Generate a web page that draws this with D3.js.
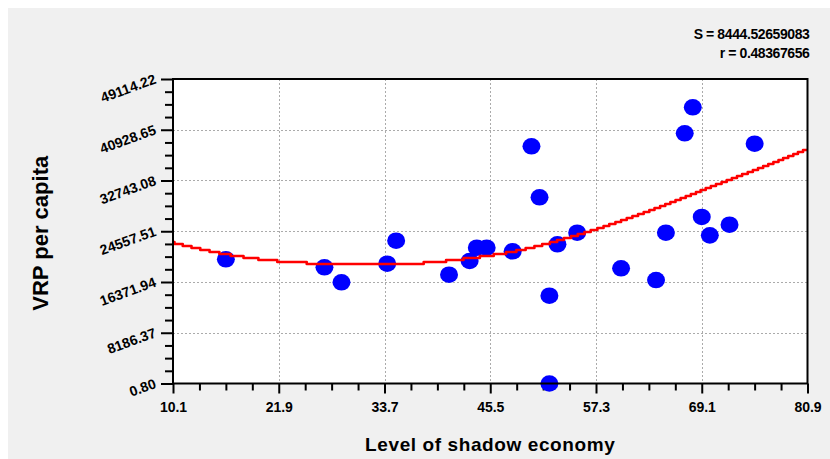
<!DOCTYPE html>
<html>
<head>
<meta charset="utf-8">
<script src="https://cdn.jsdelivr.net/npm/d3@7/dist/d3.min.js"></script>
<style>
  html, body { margin: 0; padding: 0; background: #ffffff; }
  svg { display: block; }
  text { font-family: "Liberation Sans", Arial, sans-serif; font-weight: bold; fill: #000; }
</style>
</head>
<body>
<svg id="chart" width="830" height="459"></svg>
<script>
// Level of shadow economy (%) for each observation
const shadowLevel = [16.0, 27.0, 28.9, 34.0, 35.0, 40.9, 43.2, 44.0, 45.1, 48.0,
                     50.1, 51.0, 52.1, 52.1, 53.0, 55.2, 60.1, 64.0, 65.1, 67.2,
                     68.1, 69.1, 70.0, 72.2, 75.0];
// VRP per capita for each observation
const vrpPerCapita = [20030, 18740, 16320, 19320, 23030, 17550, 19760, 21900, 21900, 21320,
                      38260, 30030, 14160, 0.80, 22450, 24320, 18580, 16690, 24320, 40360,
                      44550, 26860, 23900, 25610, 38680];

// Fitted regression curve, sampled along the x range
const fitX = [10.1, 17.2, 28.4, 35.8, 42.5, 48.1, 55.6, 63.0, 70.4, 77.9, 80.9];
const fitY = [22710, 20560, 19320, 19320, 20080, 21290, 24110, 27710, 31860, 36050, 37820];

// Axis ticks
const xTicks = [10.1, 21.9, 33.7, 45.5, 57.3, 69.1, 80.9];
const yTicks = [0.80, 8186.37, 16371.94, 24557.51, 32743.08, 40928.65, 49114.22];
const yTickLabels = ["0.80", "8186.37", "16371.94", "24557.51", "32743.08", "40928.65", "49114.22"];

// Fit statistics
const statLines = ["S = 8444.52659083", "r = 0.48367656"];

const svg = d3.select("#chart");
const W = 830, H = 459;
const plot = { left: 173, right: 807.5, top: 79, bottom: 383.5 };

// panel background
svg.append("rect").attr("x", 8).attr("y", 8).attr("width", W - 8).attr("height", H - 8)
  .attr("fill", "#f0f0f0");

const x = d3.scaleLinear().domain([xTicks[0], xTicks[xTicks.length - 1]]).range([plot.left, plot.right]);
const y = d3.scaleLinear().domain([yTicks[0], yTicks[yTicks.length - 1]]).range([plot.bottom, plot.top]);

// plot area
svg.append("rect")
  .attr("x", plot.left).attr("y", plot.top)
  .attr("width", plot.right - plot.left).attr("height", plot.bottom - plot.top)
  .attr("fill", "#ffffff");

// dashed grid at inner major ticks
const grid = svg.append("g").attr("stroke", "#ababab").attr("stroke-width", 1)
  .attr("stroke-dasharray", "2,2");
grid.selectAll("line.gx").data(xTicks.slice(1, -1)).join("line")
  .attr("x1", d => Math.round(x(d)) + 0.5).attr("x2", d => Math.round(x(d)) + 0.5)
  .attr("y1", plot.top).attr("y2", plot.bottom);
grid.selectAll("line.gy").data(yTicks.slice(1, -1)).join("line")
  .attr("y1", d => Math.round(y(d)) + 0.5).attr("y2", d => Math.round(y(d)) + 0.5)
  .attr("x1", plot.left).attr("x2", plot.right);

// minor tick values: four subdivisions per major interval
function minorValues(ticks) {
  const out = [];
  for (let i = 0; i < ticks.length - 1; i++) {
    const step = (ticks[i + 1] - ticks[i]) / 4;
    for (let k = 1; k < 4; k++) out.push(ticks[i] + k * step);
  }
  return out;
}

function styleAxis(g) {
  g.select(".domain").remove();
  g.selectAll(".tick line").attr("stroke", "#000").attr("stroke-width", 2);
}

// x axis
svg.append("g").attr("transform", `translate(0,${plot.bottom})`)
  .call(d3.axisBottom(x).tickValues(minorValues(xTicks)).tickSize(7).tickFormat(""))
  .call(styleAxis);
const xAxis = svg.append("g").attr("transform", `translate(0,${plot.bottom})`)
  .call(d3.axisBottom(x).tickValues(xTicks).tickSize(10).tickPadding(8).tickFormat(d3.format(".1f")))
  .call(styleAxis);
xAxis.selectAll(".tick text")
  .attr("font-size", 14).attr("font-family", "Liberation Sans, Arial, sans-serif")
  .attr("font-weight", "bold").attr("fill", "#000")
  .attr("y", 19).attr("dy", "0.71em");

// y axis
svg.append("g").attr("transform", `translate(${plot.left},0)`)
  .call(d3.axisLeft(y).tickValues(minorValues(yTicks)).tickSize(8).tickFormat(""))
  .call(styleAxis);
const yAxis = svg.append("g").attr("transform", `translate(${plot.left},0)`)
  .call(d3.axisLeft(y).tickValues(yTicks).tickSize(12).tickFormat((d, i) => yTickLabels[i]))
  .call(styleAxis);
yAxis.selectAll(".tick text")
  .attr("font-size", 14).attr("font-family", "Liberation Sans, Arial, sans-serif")
  .attr("font-weight", "bold").attr("fill", "#000")
  .attr("text-anchor", "end")
  .attr("x", null).attr("dy", null)
  .attr("transform", "translate(-16,3.5) rotate(-20)");

// fitted curve, drawn with a stair-stepped raster look
const smooth = d3.line().x((d, i) => x(fitX[i])).y(d => y(d)).curve(d3.curveMonotoneX);
const probe = svg.append("path").attr("d", smooth(fitY)).attr("fill", "none").attr("stroke", "none");
const node = probe.node();
const total = node.getTotalLength();
const steps = [];
for (let l = 0; l <= total; l += 0.5) {
  const p = node.getPointAtLength(l);
  const qy = Math.round(p.y / 2) * 2;
  if (!steps.length || steps[steps.length - 1][1] !== qy) steps.push([p.x, qy]);
}
const endP = node.getPointAtLength(total);
steps.push([endP.x, steps[steps.length - 1][1]]);
probe.remove();

// points
svg.append("g").selectAll("ellipse").data(shadowLevel).join("ellipse")
  .attr("cx", d => x(d))
  .attr("cy", (d, i) => y(vrpPerCapita[i]))
  .attr("rx", 9).attr("ry", 8.3)
  .attr("fill", "#0000ff");

svg.append("path")
  .attr("d", d3.line().curve(d3.curveStepAfter)(steps))
  .attr("fill", "none").attr("stroke", "#ff0000").attr("stroke-width", 2.6)
  .attr("stroke-linejoin", "round");

// plot frame
svg.append("rect")
  .attr("x", plot.left).attr("y", plot.top)
  .attr("width", plot.right - plot.left).attr("height", plot.bottom - plot.top)
  .attr("fill", "none").attr("stroke", "#000").attr("stroke-width", 2);

// axis titles
svg.append("text")
  .attr("x", (plot.left + plot.right) / 2).attr("y", 450.5)
  .attr("text-anchor", "middle").attr("font-size", 19).attr("letter-spacing", 0.6)
  .text("Level of shadow economy");

svg.append("text")
  .attr("transform", `translate(48,${(plot.top + plot.bottom) / 2 + 2}) rotate(-90)`)
  .attr("text-anchor", "middle").attr("font-size", 22)
  .text("VRP per capita");

// statistics
svg.append("g").selectAll("text").data(statLines).join("text")
  .attr("x", 809.5).attr("y", (d, i) => 39 + i * 19.3)
  .attr("text-anchor", "end").attr("font-size", 14).attr("letter-spacing", -0.4)
  .text(d => d);
</script>
</body>
</html>
